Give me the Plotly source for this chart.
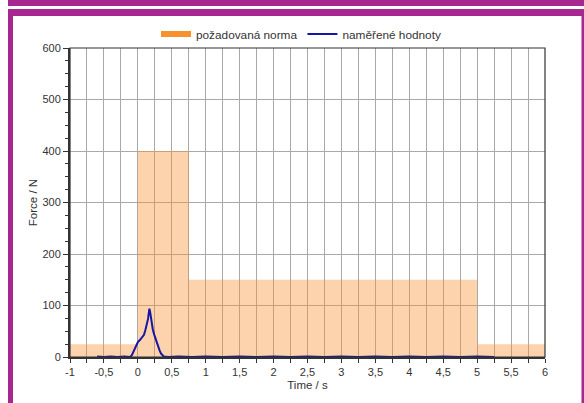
import plotly.graph_objects as go

# Norm (required) step profile
norm_t = [-1, 0, 0, 0.75, 0.75, 5, 5, 6]
norm_f = [25, 25, 400, 400, 150, 150, 25, 25]

# Measured values
meas_t = [-0.6, -0.5, -0.4, -0.3, -0.2, -0.12, -0.09, -0.06, -0.03, 0.0, 0.03, 0.06, 0.09,
          0.11, 0.13, 0.15, 0.16, 0.17, 0.18, 0.19, 0.2, 0.22, 0.24, 0.26, 0.28, 0.3,
          0.32, 0.34, 0.36, 0.38, 0.45, 0.6, 0.8, 1.0, 1.25, 1.5, 1.75, 2.0, 2.25,
          2.5, 2.75, 3.0, 3.25, 3.5, 3.75, 4.0, 4.25, 4.5, 4.75, 5.0, 5.25]
meas_f = [1, 0, 1, 0, 1, 0, 3, 11, 21, 29, 33, 37, 43,
          52, 62, 74, 84, 94, 88, 78, 66, 54, 44, 35, 27, 20,
          13, 7, 3, 1, 0, 1, 0, 1, 0, 1, 0, 1, 0,
          1, 0, 1, 0, 1, 0, 1, 0, 1, 0, 1, 0]

x_ticks = [-1, -0.5, 0, 0.5, 1, 1.5, 2, 2.5, 3, 3.5, 4, 4.5, 5, 5.5, 6]
x_labels = ["-1", "-0,5", "0", "0,5", "1", "1,5", "2", "2,5", "3", "3,5", "4", "4,5", "5", "5,5", "6"]
y_ticks = [0, 100, 200, 300, 400, 500, 600]

ORANGE = "#f7922f"
BLUE = "#1616a6"
PURPLE = "#a8268f"
GRID = "#a9a9a9"
TXT = "#333333"

fig = go.Figure()
fig.add_trace(go.Scatter(x=norm_t, y=norm_f, mode="none", fill="tozeroy",
                         fillcolor="rgba(247,146,47,0.4)", showlegend=False,
                         hoverinfo="skip"))
fig.add_trace(go.Scatter(x=[None], y=[None], mode="none", fill="toself",
                         fillcolor=ORANGE, name="požadovaná norma"))
fig.add_trace(go.Scatter(x=meas_t, y=meas_f, mode="lines", name="naměřené hodnoty",
                         line=dict(color=BLUE, width=2)))

W, H = 584, 403
L, R, T, B = 70, 545, 48, 357
pw, ph = R - L, B - T


def px(xp):
    return (xp - L) / pw


def py(yp):
    return (B - yp) / ph


shapes = [
    # frames
    dict(type="rect", xref="paper", yref="paper", x0=px(8), x1=px(590), y0=py(6), y1=py(-5),
         fillcolor=PURPLE, line=dict(width=0), layer="below"),
    dict(type="rect", xref="paper", yref="paper", x0=px(8), x1=px(590), y0=py(16), y1=py(9),
         fillcolor=PURPLE, line=dict(width=0), layer="below"),
    dict(type="rect", xref="paper", yref="paper", x0=px(8), x1=px(13), y0=py(410), y1=py(9),
         fillcolor=PURPLE, line=dict(width=0), layer="below"),
    dict(type="rect", xref="paper", yref="paper", x0=px(581.5), x1=px(590), y0=py(410), y1=py(9),
         fillcolor=PURPLE, line=dict(width=0), layer="below"),
    # plot border
    dict(type="rect", xref="paper", yref="paper", x0=0, x1=1, y0=0, y1=1,
         line=dict(color=TXT, width=1.2), layer="above"),
]

fig.update_layout(
    width=W, height=H,
    margin=dict(l=L, r=W - R, t=T, b=H - B),
    paper_bgcolor="white", plot_bgcolor="white",
    font=dict(family="Liberation Sans, Arial, sans-serif", size=11, color=TXT),
    separators=", ",
    shapes=shapes,
    showlegend=True,
    legend=dict(orientation="h", x=px(301), xanchor="center", y=py(34), yanchor="middle",
                font=dict(size=11.8, color=TXT), bgcolor="rgba(0,0,0,0)",
                itemwidth=30, tracegroupgap=0),
    xaxis=dict(range=[-1, 6], tickmode="array", tickvals=x_ticks, ticktext=x_labels,
               showgrid=True, gridcolor=GRID, gridwidth=1,
               ticks="outside", ticklen=4, tickcolor=TXT,
               showline=True, linecolor=TXT, linewidth=2,
               minor=dict(tickmode="linear", tick0=-1, dtick=0.25, showgrid=True,
                          gridcolor=GRID, gridwidth=1, ticks="outside", ticklen=4,
                          tickcolor=TXT),
               zeroline=False,
               title=dict(text="Time / s", font=dict(size=11.5, color=TXT), standoff=4)),
    yaxis=dict(range=[0, 600], tickmode="array", tickvals=y_ticks,
               showgrid=True, gridcolor=GRID, gridwidth=1,
               ticks="outside", ticklen=5, tickcolor=TXT,
               showline=True, linecolor=TXT, linewidth=2,
               minor=dict(tickmode="linear", tick0=0, dtick=25, showgrid=False,
                          ticks="outside", ticklen=3, tickcolor=TXT),
               zeroline=False,
               title=dict(text="Force / N", font=dict(size=11.5, color=TXT), standoff=2)),
)

fig.write_html("out.html", config={"displayModeBar": False},
               post_script="document.body.style.margin='0';document.body.style.overflow='hidden';")
